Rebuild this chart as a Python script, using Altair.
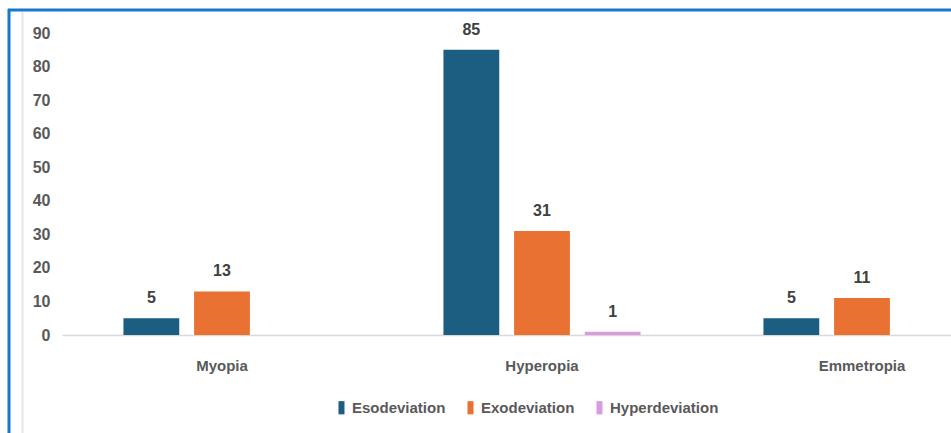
import altair as alt
import pandas as pd

categories = ["Myopia", "Hyperopia", "Emmetropia"]
series = ["Esodeviation", "Exodeviation", "Hyperdeviation"]
eso = [5, 85, 5]
exo = [13, 31, 11]
hyper = [None, 1, None]
colors = ["#1B5E82", "#E97132", "#D99BDF"]
y_ticks = [0, 10, 20, 30, 40, 50, 60, 70, 80, 90]

rows = []
for i, c in enumerate(categories):
    for s, vals in zip(series, [eso, exo, hyper]):
        if vals[i] is not None:
            rows.append({"category": c, "series": s, "value": vals[i]})
df = pd.DataFrame(rows)

SANS = "Liberation Sans"

x = alt.X(
    "category:N",
    sort=categories,
    title=None,
    scale=alt.Scale(range=[0, 960], paddingInner=0.384, paddingOuter=0.192),
    axis=alt.Axis(
        labelAngle=0, ticks=False, domainColor="#D9D9D9", domainWidth=1.5,
        labelFont=SANS, labelFontSize=15, labelFontWeight="bold",
        labelColor="#595959", labelPadding=23,
    ),
)
xo = alt.XOffset(
    "series:N", sort=series,
    scale=alt.Scale(domain=series, paddingInner=0.21, paddingOuter=0),
)
y = alt.Y(
    "value:Q",
    title=None,
    scale=alt.Scale(domain=[0, 90]),
    axis=alt.Axis(
        values=y_ticks, grid=False, domain=False, ticks=False, labelPadding=12,
        labelFont=SANS, labelFontSize=16, labelFontWeight="bold", labelColor="#595959",
    ),
)
color = alt.Color(
    "series:N",
    scale=alt.Scale(domain=series, range=colors),
    legend=alt.Legend(
        orient="none", legendX=272, legendY=367, direction="horizontal", columns=3,
        title=None, symbolType="M-0.5,-1.1H0.5V1.1H-0.5Z", symbolSize=144,
        symbolStrokeWidth=0, labelFont=SANS, labelFontSize=15,
        labelFontWeight="bold", labelColor="#595959", columnPadding=17, labelOffset=3,
    ),
)

base = alt.Chart(df)
bars = base.mark_bar().encode(x=x, xOffset=xo, y=y, color=color)
labels = base.mark_text(
    baseline="bottom", dy=-12, font=SANS, fontSize=16, fontWeight="bold", color="#404040"
).encode(x=x, xOffset=xo, y=y, text="value:Q")

one = pd.DataFrame({"a": [0]})
top_border = alt.Chart(one).mark_rule(color="#1677CF", strokeWidth=3).encode(
    x=alt.value(-54), x2=alt.value(900), y=alt.value(-23)
)
left_border = alt.Chart(one).mark_rule(color="#1677CF", strokeWidth=3).encode(
    x=alt.value(-53), y=alt.value(-24), y2=alt.value(400)
)
grey_line = alt.Chart(one).mark_rule(color="#E6E6E6", strokeWidth=2).encode(
    x=alt.value(-39.5), y=alt.value(-21), y2=alt.value(400)
)

chart = alt.layer(top_border, left_border, grey_line, bars, labels).properties(
    width=889, height=302,
    autosize=alt.AutoSizeParams(type="none"),
    padding={"left": 62, "top": 33, "right": 0, "bottom": 98},
    background="white",
).configure_view(stroke=None)

chart.save("out.html", embed_options={"renderer": "svg", "actions": False})
